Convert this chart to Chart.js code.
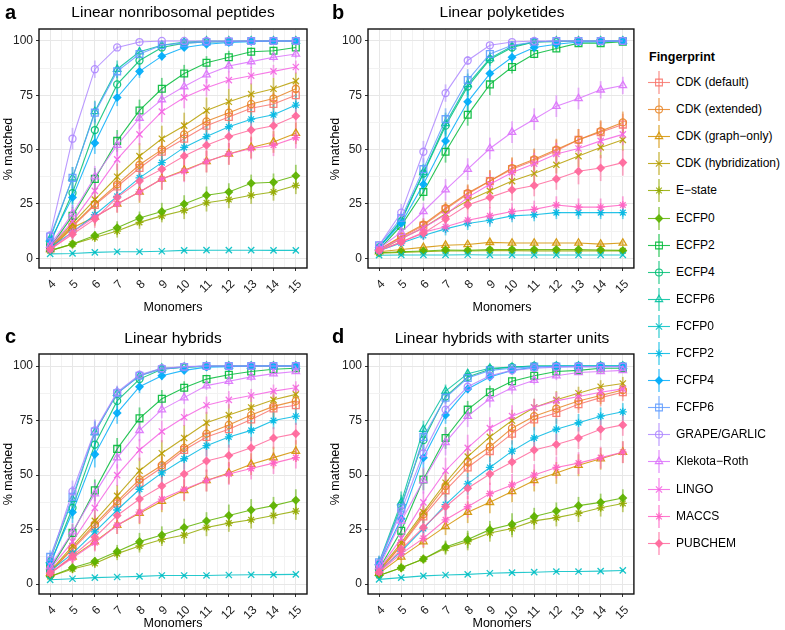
<!DOCTYPE html>
<html>
<head>
<meta charset="utf-8">
<script src="https://cdn.jsdelivr.net/npm/chart.js@4.4.1/dist/chart.umd.min.js"></script>
<style>
  body { margin: 0; background: #fff; font-family: "Liberation Sans", Arial, sans-serif; }
  #wrap { position: relative; width: 785px; height: 630px; overflow: hidden; background: #fff; }
  #wrap canvas { position: absolute; }
  .txt { position: absolute; white-space: nowrap; color: #000; }
  .letter { font-weight: bold; font-size: 20px; line-height: 20px; }
  .title { font-size: 15.5px; line-height: 15.5px; width: 320px; text-align: center; }
  .ytitle { font-size: 12.5px; line-height: 14px; width: 120px; text-align: center; transform: rotate(-90deg); }
  .xtitle { font-size: 12.5px; line-height: 12.5px; width: 120px; text-align: center; }
  .leg { font-size: 12px; line-height: 27px; }
  .legtitle { font-weight: bold; font-size: 12.5px; line-height: 12.5px; }
</style>
</head>
<body>
<div id="wrap">
  <canvas id="pa" width="320" height="302" style="left:0px;top:0px"></canvas>
  <canvas id="pb" width="320" height="302" style="left:320px;top:0px"></canvas>
  <canvas id="pc" width="320" height="302" style="left:0px;top:325px"></canvas>
  <canvas id="pd" width="320" height="302" style="left:320px;top:325px"></canvas>

  <div class="txt letter" style="left:5px;top:1.6px">a</div>
  <div class="txt letter" style="left:332px;top:1.6px">b</div>
  <div class="txt letter" style="left:5px;top:326.4px">c</div>
  <div class="txt letter" style="left:332px;top:326.4px">d</div>

  <div class="txt title" style="left:13px;top:3.9px">Linear nonribosomal peptides</div>
  <div class="txt title" style="left:342px;top:3.9px">Linear polyketides</div>
  <div class="txt title" style="left:13px;top:330.2px">Linear hybrids</div>
  <div class="txt title" style="left:342px;top:330.2px">Linear hybrids with starter units</div>

  <div class="txt ytitle" style="left:-52px;top:141.5px">% matched</div>
  <div class="txt ytitle" style="left:275px;top:141.5px">% matched</div>
  <div class="txt ytitle" style="left:-52px;top:467px">% matched</div>
  <div class="txt ytitle" style="left:275px;top:467px">% matched</div>

  <div class="txt xtitle" style="left:113px;top:301.4px">Monomers</div>
  <div class="txt xtitle" style="left:442px;top:301.4px">Monomers</div>
  <div class="txt xtitle" style="left:113px;top:617px">Monomers</div>
  <div class="txt xtitle" style="left:442px;top:617px">Monomers</div>

  <div class="txt legtitle" style="left:649px;top:51px">Fingerprint</div>
</div>

<script>
// x categories and axis ticks
const monomers = [4, 5, 6, 7, 8, 9, 10, 11, 12, 13, 14, 15];
const yTicks = [0, 25, 50, 75, 100];

const fingerprints = [
  "CDK (default)", "CDK (extended)", "CDK (graph\u2212only)", "CDK (hybridization)",
  "E\u2212state", "ECFP0", "ECFP2", "ECFP4", "ECFP6", "FCFP0", "FCFP2", "FCFP4",
  "FCFP6", "GRAPE/GARLIC", "Klekota\u2212Roth", "LINGO", "MACCS", "PUBCHEM"
];

// a: linear nonribosomal peptides, % matched (one row per fingerprint)
const nrpMatched = [
  [4.5, 14.5, 24.5, 33, 41.5, 49, 55, 61, 65, 69, 71, 75],
  [4.5, 15, 25, 34, 43, 50, 57, 63, 67, 71, 73.5, 78],
  [4, 14, 19, 25, 30.5, 36.5, 40.5, 44.5, 48, 51, 53.5, 57.5],
  [5, 16, 27, 37.5, 47, 55, 61, 68, 72, 75.5, 78, 81.5],
  [3.5, 6.5, 9.5, 12.5, 16.5, 19.5, 22, 25.5, 27, 29, 30.5, 33.5],
  [3.5, 6.5, 10.5, 14, 18.5, 21.5, 25, 29, 30.5, 34.5, 35, 38],
  [5, 19.5, 36.5, 54, 68, 78, 85, 90, 92.5, 95, 95.5, 97],
  [7, 30, 59, 80, 91, 97, 99, 99.5, 99.7, 100, 100, 100],
  [9, 37, 67.5, 87, 95, 98, 99.5, 100, 100, 100, 100, 100],
  [2, 2.2, 2.7, 3, 3, 3.2, 3.6, 3.7, 3.7, 3.7, 3.6, 3.6],
  [5, 12, 20, 28.5, 37, 44, 51, 56, 60.5, 64, 66, 70.5],
  [8, 28, 53, 74, 86, 93, 97, 98.5, 99.3, 99.7, 100, 100],
  [10, 37, 67, 86, 94, 98, 99, 99.5, 99.7, 100, 100, 100],
  [10.5, 55, 87, 97, 99.5, 100, 100, 100, 100, 100, 100, 100],
  [6, 20.5, 37.5, 52, 64.5, 73, 79, 84.5, 88.5, 90.5, 92.5, 94],
  [5.5, 17, 31, 45.5, 57, 67.5, 74, 78.5, 82, 84, 86, 88],
  [4, 12, 19, 25, 30.5, 36.5, 40, 44.5, 48, 50.5, 52, 55.5],
  [4, 11, 18, 28, 35.5, 41, 47, 52, 56, 59, 61, 65.5]
];
const nrpSd = [
  [2, 3, 4, 4, 5, 5, 5, 5, 5, 5, 5, 5],
  [2, 3, 4, 5, 5, 5, 6, 5, 5, 5, 5, 4],
  [2, 3, 4, 4, 5, 5, 5, 5, 5, 5, 5, 5],
  [2, 4, 5, 6, 6, 6, 6, 6, 6, 5, 5, 4],
  [1, 2, 2, 3, 3, 3, 4, 4, 4, 4, 4, 4],
  [1, 2, 2, 3, 3, 4, 4, 4, 4, 4, 4, 5],
  [2, 4, 5, 5, 5, 5, 4, 3, 3, 2, 2, 2],
  [2, 5, 5, 4, 3, 2, 1, 1, 0.5, 0.5, 0.3, 0.3],
  [2, 5, 5, 4, 2, 1, 1, 0.5, 0.3, 0.3, 0.3, 0.3],
  [0.5, 0.5, 0.5, 0.5, 0.5, 0.5, 0.5, 0.5, 0.5, 0.5, 0.5, 0.5],
  [2, 3, 4, 4, 5, 5, 5, 5, 5, 5, 5, 5],
  [2, 5, 5, 4, 3, 2, 1, 1, 0.5, 0.5, 0.3, 0.3],
  [2, 5, 5, 3, 2, 1, 1, 0.5, 0.3, 0.3, 0.3, 0.3],
  [2, 5, 4, 1, 0.5, 0.3, 0, 0, 0, 0, 0, 0],
  [2, 4, 5, 5, 5, 5, 4, 4, 3, 3, 2, 2],
  [2, 3, 4, 5, 5, 5, 5, 4, 4, 4, 3, 3],
  [2, 3, 3, 4, 4, 5, 5, 5, 5, 5, 5, 5],
  [2, 3, 4, 4, 5, 5, 5, 5, 5, 5, 5, 5]
];

// b: linear polyketides
const pkMatched = [
  [4, 9.5, 15, 22.5, 29.5, 35.5, 41, 45, 49.5, 54.5, 58, 61.5],
  [4, 10, 15.5, 23, 30, 35.5, 41.5, 45.5, 50, 54.5, 58.5, 62.5],
  [3, 4, 5, 6, 6.3, 7.3, 7, 7, 7, 7, 6.5, 7],
  [3.5, 9, 14, 20.5, 26.5, 31, 35.5, 39, 43, 47, 51, 54.5],
  [2.3, 2.7, 3, 3.3, 3.3, 3.5, 3.5, 3.4, 3.4, 3.4, 3.4, 3.4],
  [2.5, 3, 3.3, 3.8, 3.6, 4, 4, 4, 4, 4, 3.8, 3.6],
  [4, 15, 30.5, 49, 66, 80, 88, 94, 96.5, 99, 99, 99.7],
  [5, 17, 39, 61, 79, 91.5, 97, 99.5, 99.7, 100, 100, 100],
  [5, 17.5, 39.5, 62, 80, 92, 97.5, 99.5, 100, 100, 100, 100],
  [1.4, 1.5, 1.5, 1.5, 1.6, 1.5, 1.5, 1.5, 1.5, 1.5, 1.5, 1.5],
  [3.5, 7, 10.5, 13.5, 16, 17.5, 19.5, 20, 21, 21, 21, 21],
  [5, 16, 34, 54, 72, 85, 92.5, 97, 98.5, 99.5, 99.7, 100],
  [6, 18.5, 41, 64, 82, 94, 98, 99.5, 100, 100, 100, 100],
  [6, 21, 49, 76, 91, 98, 99.5, 100, 100, 100, 100, 100],
  [4.5, 12, 21.5, 31.5, 41, 50.5, 58, 64, 70, 73.5, 77.5, 79.5],
  [4, 9, 14, 20, 28, 34, 39.5, 43.5, 48, 50.5, 54, 57],
  [3.5, 7.5, 12, 14.5, 17.5, 19.5, 21.5, 22.5, 24.5, 23.5, 23.5, 24.5],
  [3.5, 7.5, 11.5, 18, 24.5, 28, 31.5, 33.5, 36.5, 40, 41.5, 44]
];
const pkSd = [
  [1, 2, 3, 3, 4, 5, 5, 5, 5, 5, 5, 5],
  [1, 2, 3, 3, 4, 5, 5, 5, 5, 5, 5, 5],
  [0.5, 0.5, 1, 1, 1, 1.2, 1, 1, 1, 1, 1, 1],
  [1, 2, 3, 3, 4, 4, 4, 4, 4, 5, 5, 5],
  [0.3, 0.3, 0.4, 0.4, 0.4, 0.4, 0.4, 0.4, 0.4, 0.4, 0.4, 0.4],
  [0.4, 0.4, 0.5, 0.5, 0.5, 0.6, 0.6, 0.6, 0.6, 0.6, 0.6, 0.6],
  [1, 3, 4, 5, 5, 5, 3, 2, 1.5, 1, 1, 0.5],
  [1, 3, 4, 5, 5, 3, 2, 1, 0.5, 0.3, 0.3, 0.3],
  [1, 3, 4, 5, 5, 3, 2, 1, 0.5, 0.3, 0.3, 0.3],
  [0.2, 0.2, 0.2, 0.2, 0.2, 0.2, 0.2, 0.2, 0.2, 0.2, 0.2, 0.2],
  [1, 2, 2, 3, 3, 3, 3, 3, 3, 3, 3, 3],
  [1, 3, 4, 5, 5, 4, 3, 2, 1, 0.5, 0.3, 0.3],
  [1, 3, 5, 5, 5, 3, 2, 1, 0.5, 0.3, 0.3, 0.3],
  [1, 4, 5, 4, 2, 1, 0.5, 0.3, 0, 0, 0, 0],
  [1, 3, 4, 5, 5, 5, 5, 5, 5, 5, 4, 4],
  [1, 2, 3, 4, 4, 5, 5, 5, 5, 5, 5, 5],
  [1, 2, 3, 3, 3, 4, 4, 4, 4, 4, 4, 4],
  [1, 2, 3, 3, 4, 5, 5, 5, 5, 6, 6, 6]
];

// c: linear hybrids
const hybMatched = [
  [5.5, 16, 26.5, 37, 46.5, 53.5, 61.5, 67.5, 71, 75.5, 80.5, 82],
  [5.5, 16.5, 27.5, 38, 48, 54.5, 62.5, 69, 73, 77.5, 81.5, 84],
  [5, 12.5, 19.5, 27, 32.5, 38, 43, 47.5, 51, 55, 58, 61],
  [6, 17.5, 29, 40.5, 52, 60, 67, 74, 77.5, 81, 84.5, 87],
  [3.5, 7, 9.5, 14, 17.5, 20.5, 22.5, 26, 28, 29.5, 31.5, 33.5],
  [3.5, 7.5, 10.5, 15, 19.5, 22.5, 26, 29, 31.5, 34, 36, 38.5],
  [7, 23.5, 43, 62, 76, 85, 90, 94, 96, 97.5, 98.5, 99],
  [9, 35, 64, 84, 94, 98.5, 99.5, 99.8, 100, 100, 100, 100],
  [11, 39, 69.5, 87.5, 95.5, 99, 99.5, 100, 100, 100, 100, 100],
  [2, 2.5, 3, 3.3, 3.6, 4, 4, 4, 4.2, 4.3, 4.4, 4.5],
  [6, 14, 24, 34, 43.5, 51, 57.5, 63.5, 67.5, 70.5, 75, 77],
  [9.5, 33, 59.5, 78.5, 90.5, 95.5, 98, 99.5, 99.7, 100, 100, 100],
  [12.5, 40, 70, 87.5, 95.5, 98.5, 99.5, 100, 100, 100, 100, 100],
  [11, 42.5, 70.5, 88, 96, 99, 99.7, 100, 100, 100, 100, 100],
  [8, 24, 41.5, 58, 70.5, 80, 85.5, 91, 93, 95, 96.5, 97.5],
  [7, 19.5, 35, 50, 61.5, 70, 76.5, 82, 84.5, 86.5, 88.5, 90],
  [5, 12, 19, 27, 33, 39, 43.5, 47.5, 50.5, 53, 55.5, 58],
  [5, 13, 21.5, 31.5, 39, 45, 50.5, 56.5, 59, 62.5, 67, 69]
];
const hybSd = [
  [2, 3, 4, 5, 5, 5, 6, 6, 6, 5, 5, 4],
  [2, 3, 4, 5, 5, 6, 6, 6, 5, 5, 5, 4],
  [2, 3, 4, 4, 5, 5, 5, 5, 5, 5, 5, 5],
  [2, 4, 5, 5, 6, 6, 6, 5, 5, 5, 4, 4],
  [1, 2, 2, 3, 3, 3, 4, 4, 4, 4, 4, 4],
  [1, 2, 2, 3, 4, 4, 4, 4, 5, 5, 4, 5],
  [2, 4, 5, 5, 5, 4, 3, 2, 2, 1, 1, 1],
  [3, 5, 5, 4, 2, 1, 0.5, 0.3, 0.3, 0.2, 0.2, 0.2],
  [3, 5, 5, 3, 2, 1, 0.5, 0.3, 0.2, 0.2, 0.2, 0.2],
  [0.4, 0.5, 0.5, 0.5, 0.5, 0.5, 0.5, 0.5, 0.5, 0.5, 0.5, 0.5],
  [2, 3, 4, 4, 5, 5, 5, 5, 5, 5, 4, 4],
  [3, 5, 6, 5, 3, 2, 1, 0.5, 0.3, 0.2, 0.2, 0.2],
  [3, 5, 5, 3, 2, 1, 0.5, 0.3, 0.2, 0.2, 0.2, 0.2],
  [3, 5, 5, 3, 1, 0.5, 0.3, 0.2, 0, 0, 0, 0],
  [2, 4, 5, 5, 5, 4, 3, 2, 2, 2, 1, 1],
  [2, 4, 5, 5, 5, 5, 4, 4, 4, 3, 3, 3],
  [2, 3, 4, 4, 5, 5, 5, 5, 5, 5, 5, 5],
  [2, 3, 4, 4, 5, 5, 5, 5, 5, 5, 5, 5]
];

// d: linear hybrids with starter units
const starterMatched = [
  [6, 17.5, 31, 43, 53.5, 61, 69, 75.5, 78.5, 82.5, 85.5, 88],
  [6, 18, 32, 45, 56, 63, 71.5, 77, 80.5, 84, 86.5, 89],
  [5, 12.5, 19.5, 26.5, 33, 37.5, 42.5, 47.5, 51, 54.5, 57.5, 60.5],
  [6.5, 19, 33, 46.5, 58.5, 67.5, 75, 81, 84.5, 87.5, 90.5, 92],
  [4, 7.5, 11.5, 16.5, 19.5, 23.5, 25.5, 29, 30.5, 32.5, 35, 37],
  [4, 7.5, 11.5, 17, 20.5, 25, 27.5, 31, 33.5, 36, 37.5, 39.5],
  [7, 24.5, 48, 67, 80, 88, 93, 95.5, 97.5, 98, 99, 99],
  [9, 36, 66, 86, 95, 98.5, 99.5, 100, 100, 100, 100, 100],
  [10, 37.5, 71, 88.5, 96.5, 99, 99.5, 100, 100, 100, 100, 100],
  [2.2, 3, 3.8, 4.2, 4.5, 5, 5.3, 5.5, 5.8, 5.8, 6, 6.3],
  [6, 15, 25.5, 36.5, 46, 53.5, 61, 67, 71, 74, 77, 79],
  [9, 30, 58, 77.5, 89.5, 95, 98, 99.5, 100, 100, 100, 100],
  [10, 35, 67.5, 85.5, 94.5, 98, 99, 99.7, 99.7, 99.7, 99.7, 99.7],
  [9.5, 33.5, 60, 80, 90.5, 95.5, 98, 99, 99.5, 99.7, 99.7, 99.7],
  [8, 29, 47.5, 65, 77, 85, 90, 93.5, 95.5, 97, 97.5, 98],
  [7, 21, 37.5, 52, 62.5, 71.5, 77, 81, 84, 86, 88, 89.5],
  [5.5, 14, 21, 29.5, 35.5, 41.5, 45.5, 50, 53.5, 55.5, 58, 60.5],
  [5.5, 16, 26, 35.5, 44, 50.5, 56, 61.5, 64, 67, 71, 73]
];
const starterSd = [
  [2, 3, 4, 5, 5, 5, 5, 5, 5, 4, 4, 4],
  [2, 3, 4, 5, 5, 5, 5, 5, 4, 4, 4, 3],
  [2, 3, 3, 4, 5, 5, 5, 5, 5, 5, 5, 5],
  [2, 4, 5, 5, 5, 5, 5, 4, 4, 3, 3, 3],
  [1, 2, 2, 3, 4, 4, 4, 4, 4, 4, 4, 4],
  [1, 2, 2, 3, 4, 4, 5, 4, 4, 4, 4, 4],
  [2, 4, 5, 5, 4, 3, 2, 2, 1, 1, 1, 1],
  [3, 5, 5, 3, 2, 1, 0.5, 0.3, 0.2, 0.2, 0.2, 0.2],
  [3, 5, 4, 3, 2, 1, 0.5, 0.3, 0.2, 0.2, 0.2, 0.2],
  [0.4, 0.5, 0.5, 0.5, 0.6, 0.6, 0.6, 0.6, 0.6, 0.6, 0.6, 0.6],
  [2, 3, 4, 5, 5, 5, 5, 5, 5, 4, 4, 4],
  [3, 5, 5, 4, 2, 1, 0.5, 0.3, 0.2, 0.2, 0.2, 0.2],
  [3, 5, 5, 3, 2, 1, 0.5, 0.3, 0.3, 0.3, 0.3, 0.3],
  [3, 5, 5, 4, 3, 2, 1, 1, 0.5, 0.5, 0.5, 0.5],
  [2, 4, 6, 6, 5, 4, 3, 2, 2, 1, 1, 1],
  [2, 4, 5, 6, 6, 5, 5, 4, 4, 3, 3, 3],
  [2, 3, 4, 4, 5, 5, 5, 5, 5, 5, 5, 5],
  [2, 3, 4, 5, 5, 5, 5, 5, 5, 5, 5, 5]
];

// ggplot hue palette for 18 groups, and the 6 shapes that cycle
const palette = ["#F8766D", "#E88526", "#D39200", "#B79F00", "#93AA00", "#5EB300",
  "#00BA38", "#00BF74", "#00C19F", "#00BFC4", "#00B9E3", "#00ADFA",
  "#619CFF", "#AE87FF", "#DB72FB", "#F564E3", "#FF61C3", "#FF699C"];
const shapes = ["rect", "circle", "triangle", "crossRot", "star", "rectRot"];
// marker radius per shape so that they come out about the same size
const shapeRadius = { rect: 4.8, circle: 3.5, triangle: 4.3, crossRot: 4.4, star: 4, rectRot: 3.6 };

Chart.defaults.font.family = "'Liberation Sans', Arial, sans-serif";

function rgba(hex, a) {
  const n = parseInt(hex.slice(1), 16);
  return `rgba(${n >> 16},${(n >> 8) & 255},${n & 255},${a})`;
}

// grid positions: majors on the categories / y ticks, minors in between
const xGrid = [];
monomers.forEach((m, i) => { xGrid.push(m); if (i < monomers.length - 1) xGrid.push((m + monomers[i + 1]) / 2); });
const yGrid = [];
yTicks.forEach((t, i) => { yGrid.push(t); if (i < yTicks.length - 1) yGrid.push((t + yTicks[i + 1]) / 2); });

const errorBars = {
  id: "errorBars",
  beforeDatasetsDraw(chart) {
    const { ctx, chartArea: a, scales: { x, y } } = chart;
    ctx.save();
    ctx.beginPath();
    ctx.rect(a.left, a.top, a.right - a.left, a.bottom - a.top);
    ctx.clip();
    ctx.lineWidth = 1.8;
    chart.data.datasets.forEach((ds, i) => {
      ctx.strokeStyle = rgba(palette[i], 0.55);
      ds.data.forEach((p, j) => {
        const e = ds.sd[j];
        if (!e) return;
        const px = x.getPixelForValue(p.x);
        ctx.beginPath();
        ctx.moveTo(px, y.getPixelForValue(p.y - e));
        ctx.lineTo(px, y.getPixelForValue(p.y + e));
        ctx.stroke();
      });
    });
    ctx.restore();
  }
};

const frame = {
  id: "frame",
  afterDraw(chart) {
    const { ctx, chartArea: a } = chart;
    ctx.save();
    ctx.strokeStyle = "#111";
    ctx.lineWidth = 1.4;
    ctx.strokeRect(a.left, a.top, a.right - a.left, a.bottom - a.top);
    ctx.restore();
  }
};

const isMajorX = v => Number.isInteger(v);
const isMajorY = v => v % 25 === 0;

function makePanel(id, g, values, sds) {
  const canvas = document.getElementById(id);
  const W = canvas.width, H = canvas.height;
  const datasets = fingerprints.map((name, i) => {
    const shape = shapes[i % 6];
    return {
      label: name,
      data: values[i].map((v, j) => ({ x: monomers[j], y: v })),
      sd: sds[i],
      order: fingerprints.length - i,
      borderColor: rgba(palette[i], 0.85),
      borderWidth: 1.1,
      pointStyle: shape,
      pointRadius: shapeRadius[shape],
      pointHoverRadius: shapeRadius[shape],
      pointBorderWidth: 1.3,
      pointBorderColor: rgba(palette[i], 0.9),
      pointBackgroundColor: shape === "rectRot" ? rgba(palette[i], 0.9) : "rgba(0,0,0,0)",
      fill: false,
      tension: 0
    };
  });

  return new Chart(canvas, {
    type: "line",
    data: { datasets },
    plugins: [errorBars, frame],
    options: {
      responsive: false,
      animation: false,
      events: [],
      layout: { padding: { left: 0, top: g.T - g.y0, right: g.x0 + W - g.R, bottom: 0 } },
      plugins: { legend: { display: false }, tooltip: { enabled: false } },
      scales: {
        x: {
          type: "linear", min: 3.5, max: 15.5,
          afterBuildTicks: s => { s.ticks = xGrid.map(v => ({ value: v })); },
          afterFit: s => { s.height = g.y0 + H - g.B; },
          border: { display: false },
          grid: {
            color: c => isMajorX(c.tick.value) ? "#e7e7e7" : "#f2f2f2",
            lineWidth: 1,
            tickLength: 3,
            tickColor: c => isMajorX(c.tick.value) ? "#333" : "rgba(0,0,0,0)"
          },
          ticks: {
            autoSkip: false, minRotation: 45, maxRotation: 45,
            padding: 6, labelOffset: 4, color: "#222", font: { size: 12 },
            callback: v => isMajorX(v) ? String(v) : ""
          }
        },
        y: {
          type: "linear", min: -4.5, max: 105.5,
          afterBuildTicks: s => { s.ticks = yGrid.map(v => ({ value: v })); },
          afterFit: s => { s.width = g.L - g.x0; },
          border: { display: false },
          grid: {
            color: c => isMajorY(c.tick.value) ? "#e7e7e7" : "#f2f2f2",
            lineWidth: 1,
            tickLength: 3,
            tickColor: c => isMajorY(c.tick.value) ? "#333" : "rgba(0,0,0,0)"
          },
          ticks: {
            autoSkip: false, padding: 3, color: "#222", font: { size: 12 },
            callback: v => isMajorY(v) ? String(v) : ""
          }
        }
      }
    }
  });
}

makePanel("pa", { x0: 0, y0: 0, L: 39, T: 29, R: 307, B: 268 }, nrpMatched, nrpSd);
makePanel("pb", { x0: 320, y0: 0, L: 368, T: 29, R: 636, B: 268 }, pkMatched, pkSd);
makePanel("pc", { x0: 0, y0: 325, L: 39, T: 354, R: 307, B: 594 }, hybMatched, hybSd);
makePanel("pd", { x0: 320, y0: 325, L: 368, T: 354, R: 636, B: 594 }, starterMatched, starterSd);

// legend: key glyph (line + error bar + marker) and label for each fingerprint
const wrap = document.getElementById("wrap");
fingerprints.forEach((name, i) => {
  const shape = shapes[i % 6];
  const cy = 82.5 + i * 27.1;
  const c = document.createElement("canvas");
  c.width = 26; c.height = 27;
  c.style.left = "646px";
  c.style.top = (cy - 13.5) + "px";
  wrap.appendChild(c);
  const ctx = c.getContext("2d");
  ctx.strokeStyle = rgba(palette[i], 0.55);
  ctx.lineWidth = 1.8;
  ctx.beginPath(); ctx.moveTo(13, 2); ctx.lineTo(13, 25); ctx.stroke();
  ctx.strokeStyle = rgba(palette[i], 0.85);
  ctx.lineWidth = 1.1;
  ctx.beginPath(); ctx.moveTo(2, 13.5); ctx.lineTo(24, 13.5); ctx.stroke();
  ctx.strokeStyle = rgba(palette[i], 0.9);
  ctx.fillStyle = shape === "rectRot" ? rgba(palette[i], 0.9) : "rgba(0,0,0,0)";
  Chart.helpers.drawPoint(ctx, { pointStyle: shape, radius: shapeRadius[shape], rotation: 0, borderWidth: 1.3 }, 13, 13.5);

  const t = document.createElement("div");
  t.className = "txt leg";
  t.style.left = "676px";
  t.style.top = (cy - 13.5) + "px";
  t.textContent = name;
  wrap.appendChild(t);
});
</script>
</body>
</html>
